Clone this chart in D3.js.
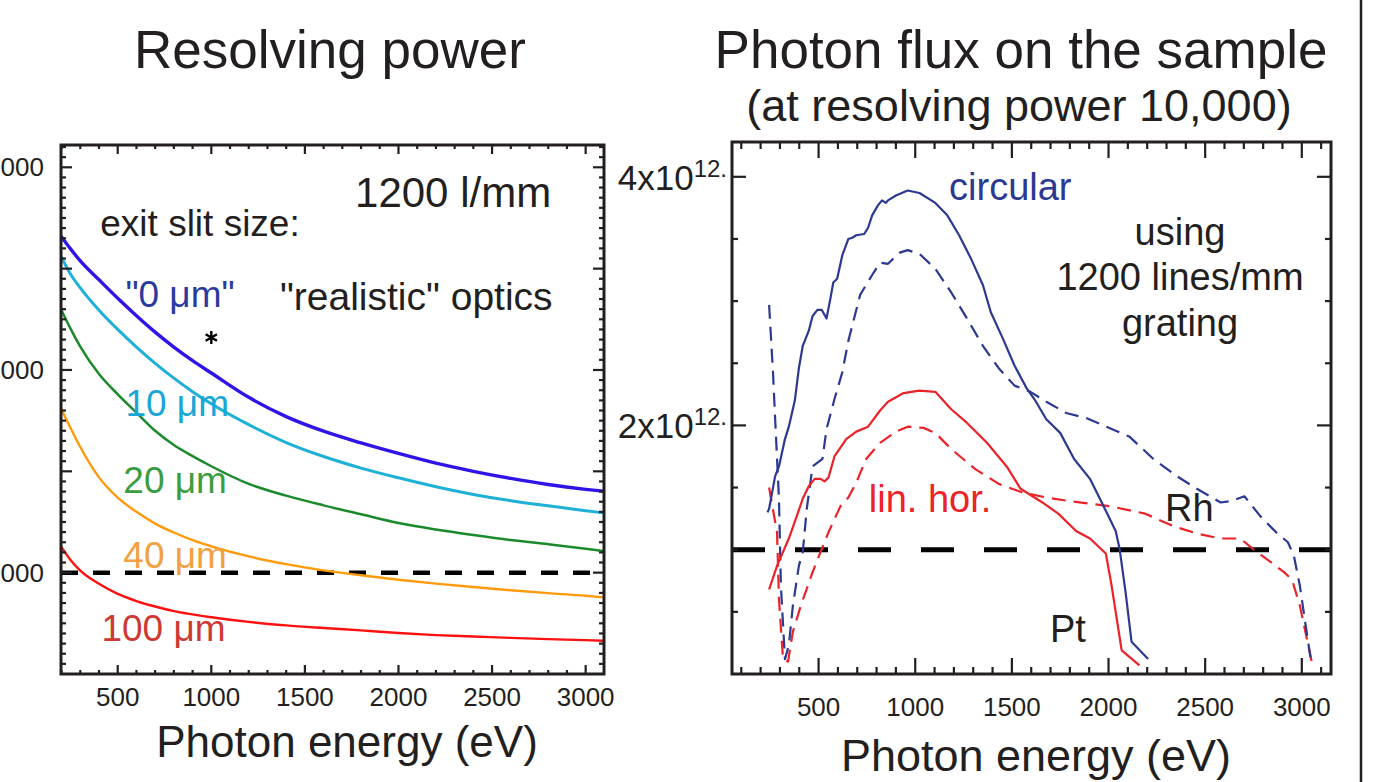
<!DOCTYPE html>
<html>
<head>
<meta charset="utf-8">
<script src="https://cdn.jsdelivr.net/npm/d3@7"></script>
<style>
html, body { margin: 0; padding: 0; background: #fff; }
svg text { font-family: "Liberation Sans", Arial, Helvetica, sans-serif; fill: #231f20; }
</style>
</head>
<body>
<svg id="chart" width="1387" height="782"></svg>
<script>
// ---- Left panel: resolving power vs photon energy for several exit slit sizes
const slitEnergy = [197, 250, 300, 400, 500, 600, 700, 800, 900, 1000, 1200, 1400, 1600, 1800, 2000, 2200, 2400, 2600, 2800, 3000, 3095];
const slit0   = [26600, 25950, 25380, 24450, 23540, 22680, 21870, 21130, 20460, 19850, 18650, 17700, 16980, 16400, 15880, 15400, 15000, 14650, 14350, 14110, 14020];
const slit10  = [25600, 24700, 24050, 22950, 22000, 21130, 20330, 19600, 18930, 18330, 17300, 16420, 15730, 15160, 14680, 14240, 13860, 13550, 13300, 13060, 12950];
const slit20  = [23000, 22000, 21150, 19800, 18800, 17900, 17000, 16300, 15750, 15250, 14380, 13800, 13320, 12880, 12450, 12130, 11860, 11610, 11400, 11180, 11070];
const slit40  = [18100, 17100, 16200, 14700, 13700, 13000, 12420, 11980, 11600, 11300, 10800, 10420, 10110, 9870, 9650, 9460, 9290, 9130, 8990, 8860, 8780];
const slit100 = [11300, 10600, 10100, 9450, 8950, 8600, 8330, 8100, 7940, 7800, 7570, 7400, 7270, 7150, 7020, 6920, 6850, 6780, 6720, 6670, 6640];
const slitNames = ['0', '10', '20', '40', '100'];
const slitValues = [slit0, slit10, slit20, slit40, slit100];
const realisticPoint = [{ e: 1000, v: 21600 }];
const leftXTicks = [500, 1000, 1500, 2000, 2500, 3000];
const leftYTicks = [10000, 20000, 30000];
const targetPower = 10000;

// ---- Right panel: photon flux (units of 1e12) at resolving power 10,000
const circPtE = [236, 244, 275, 295, 326, 346, 377, 398, 418, 449, 469, 494, 516, 541, 561, 576, 596, 623, 654, 674, 695, 736, 756, 777, 807, 828, 848, 859, 900, 961, 1022, 1104, 1166, 1227, 1289, 1350, 1391, 1453, 1514, 1576, 1617, 1678, 1750, 1822, 1904, 1965, 2037, 2057, 2088, 2119, 2205];
const circPtV = [1.30, 1.33, 1.59, 1.67, 1.89, 1.99, 2.20, 2.46, 2.64, 2.76, 2.88, 2.93, 2.93, 2.86, 3.02, 3.15, 3.18, 3.37, 3.50, 3.51, 3.53, 3.54, 3.59, 3.69, 3.77, 3.81, 3.79, 3.81, 3.85, 3.89, 3.87, 3.79, 3.69, 3.53, 3.34, 3.13, 2.91, 2.70, 2.48, 2.30, 2.21, 2.05, 1.94, 1.73, 1.57, 1.38, 1.15, 1.01, 0.66, 0.26, 0.12];
const circRhE = [244, 264, 275, 295, 305, 326, 346, 367, 398, 418, 439, 469, 520, 541, 582, 623, 654, 715, 777, 818, 859, 920, 961, 1022, 1104, 1186, 1268, 1350, 1432, 1514, 1596, 1678, 1781, 1883, 2108, 2232, 2355, 2457, 2580, 2631, 2703, 2785, 2867, 2928, 2959, 2990, 3020, 3051];
const circRhV = [2.97, 2.43, 2.06, 1.41, 0.71, 0.12, 0.23, 0.55, 0.87, 0.98, 1.33, 1.67, 1.73, 1.97, 2.21, 2.43, 2.68, 3.05, 3.21, 3.31, 3.30, 3.39, 3.41, 3.38, 3.26, 3.07, 2.86, 2.64, 2.46, 2.32, 2.27, 2.19, 2.10, 2.06, 1.91, 1.73, 1.59, 1.49, 1.38, 1.39, 1.43, 1.27, 1.14, 1.06, 0.95, 0.71, 0.39, 0.07];
const linPtE = [244, 285, 346, 387, 418, 449, 480, 510, 531, 551, 582, 643, 695, 756, 818, 859, 940, 1022, 1104, 1186, 1268, 1371, 1473, 1545, 1658, 1740, 1832, 1904, 1986, 2016, 2068, 2160];
const linPtV = [0.68, 0.87, 1.09, 1.27, 1.41, 1.51, 1.57, 1.57, 1.55, 1.58, 1.75, 1.89, 1.95, 1.99, 2.12, 2.19, 2.26, 2.28, 2.27, 2.13, 2.02, 1.86, 1.67, 1.49, 1.38, 1.29, 1.15, 1.09, 0.97, 0.71, 0.19, 0.07];
const linRhE = [244, 254, 285, 295, 316, 342, 367, 408, 469, 551, 613, 654, 695, 746, 818, 900, 961, 1043, 1104, 1186, 1309, 1432, 1555, 1678, 1801, 2006, 2190, 2334, 2457, 2580, 2682, 2744, 2908, 2949, 2990, 3051];
const linRhV = [1.50, 1.41, 1.14, 0.60, 0.12, 0.10, 0.34, 0.55, 0.82, 1.14, 1.35, 1.42, 1.54, 1.73, 1.86, 1.95, 1.99, 1.98, 1.94, 1.81, 1.65, 1.53, 1.46, 1.42, 1.39, 1.35, 1.29, 1.19, 1.13, 1.09, 1.09, 1.01, 0.82, 0.76, 0.55, 0.10];
const rightXTicks = [500, 1000, 1500, 2000, 2500, 3000];
const rightYTicks = [2, 4];
const fluxLevel = 1;

// ---- styles
const FONT_DARK = '#231f20';
const slitStyle = {
    '0':   { line: '#2f14e8', text: '#2b3a9e', width: 3.4 },
    '10':  { line: '#1fb0d8', text: '#1aa6d6', width: 3 },
    '20':  { line: '#1b8a2c', text: '#3c9d40', width: 2.5 },
    '40':  { line: '#ff9a0a', text: '#f2a040', width: 2.4 },
    '100': { line: '#ff1010', text: '#cc3a33', width: 2.4 }
};
const BLUE = '#2b3990';
const RED = '#ec2229';

const svg = d3.select('#chart');
svg.append('rect').attr('width', 1387).attr('height', 782).attr('fill', '#fff');

function addText(g, x, y, str, size, opts = {}) {
    return g.append('text')
        .attr('x', x).attr('y', y)
        .attr('font-size', size)
        .attr('text-anchor', opts.anchor || 'start')
        .style('fill', opts.color || FONT_DARK)
        .text(str);
}

// Inward ticks on all four sides of a frame
function drawFrame(g, x, y, xt, yt) {
    const [x0, x1] = x.range();
    const [y0, y1] = y.range(); // y0 bottom, y1 top
    const tk = g.append('g').attr('stroke', FONT_DARK).attr('stroke-width', 2.2);
    xt.values.forEach(v => {
        const len = xt.isMajor(v) ? xt.major : xt.minor;
        tk.append('line').attr('x1', x(v)).attr('x2', x(v)).attr('y1', y0).attr('y2', y0 - len);
        tk.append('line').attr('x1', x(v)).attr('x2', x(v)).attr('y1', y1).attr('y2', y1 + len);
    });
    yt.values.forEach(v => {
        const len = yt.isMajor(v) ? yt.major : yt.minor;
        tk.append('line').attr('y1', y(v)).attr('y2', y(v)).attr('x1', x0).attr('x2', x0 + len);
        tk.append('line').attr('y1', y(v)).attr('y2', y(v)).attr('x1', x1).attr('x2', x1 - len);
    });
    g.append('rect')
        .attr('x', x0).attr('y', y1)
        .attr('width', x1 - x0).attr('height', y0 - y1)
        .attr('fill', 'none').attr('stroke', FONT_DARK).attr('stroke-width', 3);
}

// ================= LEFT PANEL =================
const xL = d3.scaleLinear().domain([197, 3098]).range([61, 604]);
const yL = d3.scaleLinear().domain([5000, 31100]).range([674, 145]);
const left = svg.append('g');

left.append('clipPath').attr('id', 'clipL').append('rect')
    .attr('x', 61).attr('y', 145).attr('width', 543).attr('height', 529);

const plotL = left.append('g').attr('clip-path', 'url(#clipL)');

plotL.append('line')
    .attr('x1', xL.range()[0]).attr('x2', xL.range()[1])
    .attr('y1', yL(targetPower)).attr('y2', yL(targetPower))
    .attr('stroke', '#000').attr('stroke-width', 4.5).attr('stroke-dasharray', '17,15');

const lineL = d3.line().x(d => xL(d.e)).y(d => yL(d.v)).curve(d3.curveMonotoneX);
slitNames.slice().reverse().forEach(name => {
    const vals = slitValues[slitNames.indexOf(name)];
    const pts = slitEnergy.map((e, i) => ({ e, v: vals[i] }));
    plotL.append('path').datum(pts)
        .attr('d', lineL)
        .attr('fill', 'none')
        .attr('stroke', slitStyle[name].line)
        .attr('stroke-width', slitStyle[name].width)
        .attr('stroke-linejoin', 'round');
});

plotL.selectAll('.star').data(realisticPoint).enter().append('path')
    .attr('transform', d => `translate(${xL(d.e)},${yL(d.v)})`)
    .attr('d', d3.symbol(d3.symbolAsterisk, 120))
    .attr('fill', 'none').attr('stroke', '#000').attr('stroke-width', 2.4);

drawFrame(left, xL, yL,
    { values: d3.range(200, 3100, 100), isMajor: v => v % 500 === 0, major: 9, minor: 4 },
    { values: d3.range(5500, 31100, 500), isMajor: v => v % 5000 === 0, major: 11, minor: 5 });

leftXTicks.forEach(v => addText(left, xL(v), 706, String(v), 26, { anchor: 'middle' }));
// the left part of these labels runs off the page, as in the original figure
leftYTicks.forEach(v => addText(left, 44, yL(v) + 9, String(v), 26, { anchor: 'end' }));

addText(left, 330, 68, 'Resolving power', 53, { anchor: 'middle' });
addText(left, 347, 757, 'Photon energy (eV)', 44, { anchor: 'middle' });

// annotations (placed in data space)
addText(left, xL(1768), yL(28030), '1200 l/mm', 42);
addText(left, xL(407), yL(26620), 'exit slit size:', 37);
addText(left, xL(541), yL(23100), '"0 μm"', 37, { color: slitStyle['0'].text });
addText(left, xL(1367), yL(22950), '"realistic" optics', 39);
addText(left, xL(541), yL(17720), '10 μm', 37, { color: slitStyle['10'].text });
addText(left, xL(530), yL(13920), '20 μm', 37, { color: slitStyle['20'].text });
addText(left, xL(530), yL(10220), '40 μm', 37, { color: slitStyle['40'].text });
addText(left, xL(413), yL(6620), '100 μm', 37, { color: slitStyle['100'].text });

// ================= RIGHT PANEL =================
const xR = d3.scaleLinear().domain([52, 3151]).range([732, 1331]);
const yR = d3.scaleLinear().domain([0, 4.28]).range([674, 142]);
const right = svg.append('g');

right.append('clipPath').attr('id', 'clipR').append('rect')
    .attr('x', 732).attr('y', 142).attr('width', 599).attr('height', 532);
const plotR = right.append('g').attr('clip-path', 'url(#clipR)');

plotR.append('line')
    .attr('x1', xR.range()[0]).attr('x2', xR.range()[1])
    .attr('y1', yR(fluxLevel)).attr('y2', yR(fluxLevel))
    .attr('stroke', '#000').attr('stroke-width', 5).attr('stroke-dasharray', '33,30');

const fluxSeries = [
    { e: linRhE, v: linRhV, color: RED, dash: '14,8' },
    { e: circRhE, v: circRhV, color: BLUE, dash: '14,8' },
    { e: linPtE, v: linPtV, color: RED, dash: null },
    { e: circPtE, v: circPtV, color: BLUE, dash: null }
];
const lineR = d3.line().x(d => xR(d.e)).y(d => yR(d.v));
fluxSeries.forEach(s => {
    const pts = s.e.map((e, i) => ({ e, v: s.v[i] }));
    plotR.append('path').datum(pts)
        .attr('d', lineR)
        .attr('fill', 'none')
        .attr('stroke', s.color)
        .attr('stroke-width', 2.2)
        .attr('stroke-linejoin', 'round')
        .attr('stroke-dasharray', s.dash);
});

drawFrame(right, xR, yR,
    { values: d3.range(100, 3151, 100), isMajor: v => v % 500 === 0, major: 16, minor: 7 },
    { values: d3.range(0.5, 4.28, 0.5), isMajor: v => v % 2 === 0, major: 14, minor: 6 });

rightXTicks.forEach(v => addText(right, xR(v), 716, String(v), 26, { anchor: 'middle' }));
rightYTicks.forEach(v => {
    const t = right.append('text')
        .attr('x', 727).attr('y', yR(v) + 13)
        .attr('font-size', 35).attr('text-anchor', 'end')
        .style('fill', FONT_DARK);
    t.append('tspan').text(v + 'x10');
    t.append('tspan').attr('dy', -13).attr('font-size', 24).text('12.');
});

addText(right, 1021, 68, 'Photon flux on the sample', 53, { anchor: 'middle' });
addText(right, 1019, 121, '(at resolving power 10,000)', 45, { anchor: 'middle' });
addText(right, 1036, 771, 'Photon energy (eV)', 45, { anchor: 'middle' });

addText(right, xR(1175), yR(3.81), 'circular', 38, { color: BLUE });
addText(right, xR(2370), yR(3.45), 'using', 38, { anchor: 'middle' });
addText(right, xR(2370), yR(3.09), '1200 lines/mm', 38, { anchor: 'middle' });
addText(right, xR(2370), yR(2.72), 'grating', 38, { anchor: 'middle' });
addText(right, xR(760), yR(1.30), 'lin. hor.', 38, { color: RED });
addText(right, xR(2292), yR(1.23), 'Rh', 38);
addText(right, xR(1697), yR(0.26), 'Pt', 38);

// separator on the far right
svg.append('line')
    .attr('x1', 1361).attr('x2', 1361).attr('y1', 0).attr('y2', 782)
    .attr('stroke', FONT_DARK).attr('stroke-width', 2.5);
</script>
</body>
</html>
